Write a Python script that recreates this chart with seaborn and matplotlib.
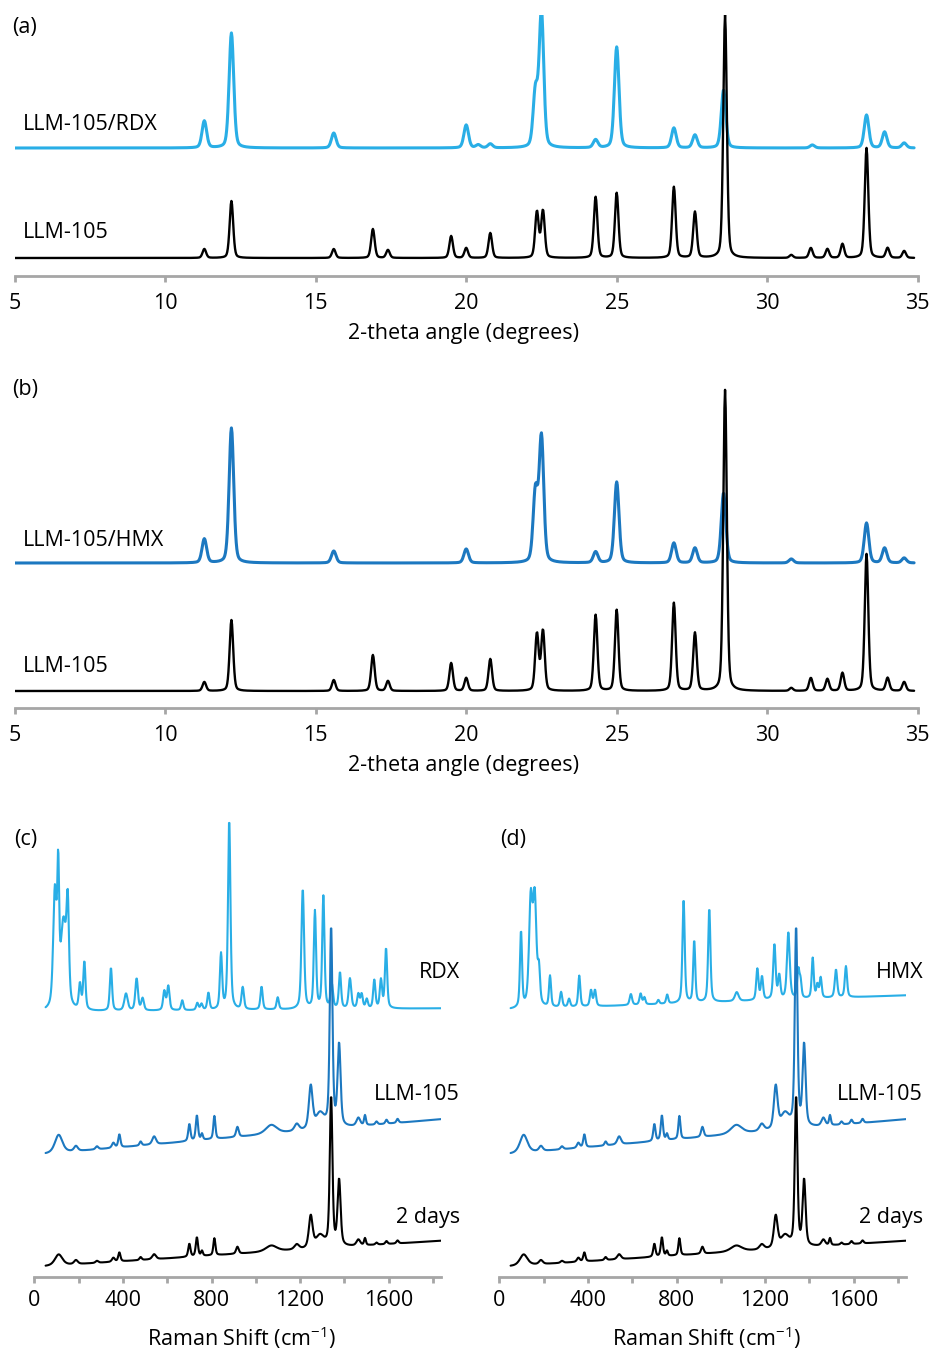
import numpy as np
import pandas as pd
import matplotlib
matplotlib.use("Agg")
import matplotlib.pyplot as plt
import seaborn as sns

# ---------------- DATA ----------------
# XRD: peak positions (2-theta, degrees) and heights (arbitrary units)
xrd_llm_pos = [11.3, 12.2, 15.6, 16.9, 17.4, 19.5, 20.0, 20.8, 22.35, 22.55, 24.3, 25.0,
               26.9, 27.6, 28.6, 30.8, 31.45, 32.0, 32.5, 33.3, 34.0, 34.55]
xrd_a_llm_h = [9, 57, 9, 29, 8, 22, 10, 25, 46, 47, 61, 65, 71, 46, 243, 3, 10, 9, 14, 110, 10, 7]
xrd_b_llm_h = [9, 71, 11, 36, 10, 28, 13, 32, 57, 60, 76, 81, 88, 58, 301, 3, 13, 12, 18, 137, 13, 9]

xrd_rdx_pos = [11.3, 12.2, 15.6, 20.0, 20.4, 20.8, 22.3, 22.5, 24.3, 25.0, 26.9, 27.6, 28.55,
               31.5, 33.3, 33.9, 34.55]
xrd_rdx_h = [27, 115, 15, 23, 3, 4, 55, 135, 8, 101, 20, 13, 58, 3, 33, 16, 5]

xrd_hmx_pos = [11.3, 12.2, 15.6, 20.0, 22.3, 22.5, 24.3, 25.0, 26.9, 27.6, 28.55, 30.8,
               33.3, 33.9, 34.55]
xrd_hmx_h = [24, 135, 12, 14, 70, 125, 11, 81, 20, 15, 70, 4, 40, 15, 5]

# vertical offsets of the stacked XRD traces
xrd_a_offsets = {"LLM-105": 18, "LLM-105/RDX": 128}
xrd_b_offsets = {"LLM-105": 17, "LLM-105/HMX": 145}

# Raman peaks: position (cm-1), height, FWHM
rdx_raman_pos = [93, 108, 132, 151, 206, 226, 346, 414, 462, 489, 587, 605, 668, 736, 755, 786,
                 843, 880, 941, 1026, 1099, 1212, 1267, 1305, 1343, 1380, 1425, 1463, 1478,
                 1501, 1535, 1565, 1588]
rdx_raman_h = [115, 120, 85, 90, 25, 48, 43, 17, 32, 12, 19, 24, 10, 7, 6, 17,
               55, 190, 22, 23, 12, 120, 97, 112, 24, 36, 30, 14, 14, 9, 28, 28, 60]
rdx_raman_w = [18, 10, 30, 13, 12, 12, 12, 18, 14, 14, 13, 13, 12, 12, 12, 12,
               12, 13, 13, 12, 12, 14, 12, 12, 13, 12, 14, 12, 12, 12, 12, 12, 12]

hmx_raman_pos = [98, 142, 160, 179, 229, 279, 315, 361, 414, 432, 594, 638, 655, 718, 758,
                 832, 880, 948, 1072, 1165, 1186, 1242, 1264, 1305, 1350, 1360, 1415, 1436,
                 1451, 1520, 1565]
hmx_raman_h = [76, 105, 105, 33, 31, 15, 8, 31, 16, 16, 11, 11, 7, 4, 9,
               104, 62, 94, 9, 31, 23, 55, 23, 66, 28, 16, 40, 13, 20, 28, 31]
hmx_raman_w = [11, 18, 18, 12, 11, 12, 12, 11, 12, 12, 13, 12, 11, 11, 11,
               12, 11, 12, 20, 12, 12, 13, 12, 15, 12, 11, 11, 11, 11, 13, 12]

llm_raman_pos = [110, 188, 283, 357, 384, 480, 541, 700, 734, 757, 813, 917, 1070, 1185,
                 1248, 1290, 1340, 1376, 1463, 1493, 1545, 1590, 1640]
llm_raman_h = [18, 5, 3, 5, 13, 4, 8, 17, 25, 6, 23, 10, 9, 7, 43, 15, 200, 82, 8, 10, 3, 4, 4]
days2_raman_h = [11, 4, 2, 4, 9, 3, 5, 13, 19, 5, 17, 7, 6, 5, 32, 12, 150, 66, 6, 7, 2, 3, 3]
llm_raman_w = [40, 20, 15, 15, 12, 12, 20, 12, 12, 10, 11, 14, 60, 25, 20, 45, 14, 16, 20, 10, 12, 12, 12]

# Raman baselines: (value at 0 cm-1, slope per cm-1)
rdx_base = (265, 0.002)
hmx_base = (267, 0.008)
llm_base = (122, 0.0195)
days2_base = (10, 0.0143)

xrd_ticks = [5, 10, 15, 20, 25, 30, 35]
raman_ticks = [0, 200, 400, 600, 800, 1000, 1200, 1400, 1600, 1800]
raman_ticklabels = ["0", "", "400", "", "800", "", "1200", "", "1600", ""]

# ---------------- STYLE ----------------
sns.set_theme(style="white")
plt.rcParams["font.family"] = ["Open Sans", "DejaVu Sans"]
plt.rcParams["mathtext.fontset"] = "custom"
plt.rcParams["mathtext.rm"] = "Open Sans"
plt.rcParams["mathtext.it"] = "Open Sans:italic"

FS = 15.5
BLACK = "#000000"
LIGHT = "#29AEE6"
MID = "#1C78C0"
GREY = "#A6A6A6"
W, H = 935, 1352


def pv(x, pos, h, w, eta):
    y = np.zeros_like(x, dtype=float)
    for p, a, f in zip(pos, h, w):
        d = (x - p) / f
        y += a * (eta / (1 + 4 * d * d) + (1 - eta) * np.exp(-4 * np.log(2) * d * d))
    return y


def fig_ax(left_px, right_px, top_px, bottom_px):
    return fig.add_axes([left_px / W, 1 - bottom_px / H, (right_px - left_px) / W,
                         (bottom_px - top_px) / H])


def style(ax, ticks, labels, pad):
    for s in ["top", "left", "right"]:
        ax.spines[s].set_visible(False)
    ax.spines["bottom"].set_color(GREY)
    ax.spines["bottom"].set_linewidth(2)
    ax.set_yticks([])
    ax.set_xticks(ticks)
    ax.set_xticklabels(labels)
    ax.tick_params(axis="x", direction="out", length=4, width=2, color=GREY,
                   labelsize=FS, labelcolor=BLACK, pad=pad, bottom=True)
    ax.set_xlabel("")
    ax.set_ylabel("")
    ax.patch.set_alpha(0)


def text(x, y, s, ha="left"):
    fig.text(x / W, 1 - y / H, s, ha=ha, va="center", fontsize=FS, color=BLACK)


fig = plt.figure(figsize=(W / 100, H / 100), dpi=100)

x2t = np.arange(5.0, 34.9, 0.02)
for (top, bottom, comp_name, comp_pos, comp_h, comp_col, llm_h, offs, ymax) in [
        (15, 276, "LLM-105/RDX", xrd_rdx_pos, xrd_rdx_h, LIGHT, xrd_a_llm_h, xrd_a_offsets, 261),
        (388, 708, "LLM-105/HMX", xrd_hmx_pos, xrd_hmx_h, MID, xrd_b_llm_h, xrd_b_offsets, 320)]:
    ax = fig_ax(14.7, 917.7, top, bottom)
    df_c = pd.DataFrame({"x": x2t,
                         "y": pv(x2t, comp_pos, comp_h, [0.18] * len(comp_pos), 0.3) + offs[comp_name]})
    df_l = pd.DataFrame({"x": x2t,
                         "y": pv(x2t, xrd_llm_pos, llm_h, [0.14] * len(xrd_llm_pos), 0.3) + offs["LLM-105"]})
    sns.lineplot(data=df_c, x="x", y="y", color=comp_col, linewidth=2.2,
                 estimator=None, sort=False, ax=ax)
    sns.lineplot(data=df_l, x="x", y="y", color=BLACK, linewidth=1.7,
                 estimator=None, sort=False, ax=ax)
    ax.set_xlim(5, 35)
    ax.set_ylim(0, ymax)
    style(ax, xrd_ticks, [str(t) for t in xrd_ticks], 8)

# ---------------- (c) and (d) ----------------
xr = np.arange(51.0, 1838.0, 2.0)
for left, ref_name, pos, h, w, base in [
        (34.3, "RDX", rdx_raman_pos, rdx_raman_h, rdx_raman_w, rdx_base),
        (499.3, "HMX", hmx_raman_pos, hmx_raman_h, hmx_raman_w, hmx_base)]:
    ax = fig_ax(left, left + 1838 * 0.2215, 813, 1277)
    y_ref = pv(xr, pos, h, w, 0.5) + base[0] + base[1] * xr
    y_llm = pv(xr, llm_raman_pos, llm_raman_h, llm_raman_w, 0.5) + llm_base[0] + llm_base[1] * xr
    y_2d = pv(xr, llm_raman_pos, days2_raman_h, llm_raman_w, 0.5) + days2_base[0] + days2_base[1] * xr
    df = pd.DataFrame({"x": np.concatenate([xr, xr, xr]),
                       "y": np.concatenate([y_ref, y_llm, y_2d]),
                       "s": [ref_name] * len(xr) + ["LLM-105"] * len(xr) + ["2 days"] * len(xr)})
    sns.lineplot(data=df, x="x", y="y", hue="s",
                 palette={ref_name: LIGHT, "LLM-105": MID, "2 days": BLACK},
                 linewidth=1.5, estimator=None, sort=False, legend=False, ax=ax)
    ax.set_xlim(0, 1838)
    ax.set_ylim(0, 464)
    style(ax, raman_ticks, raman_ticklabels, 5)

# ---------------- texts ----------------
text(12, 28, "(a)")
text(12, 390, "(b)")
text(14, 840, "(c)")
text(500, 840, "(d)")
text(23, 125, "LLM-105/RDX")
text(23, 233, "LLM-105")
text(23, 541, "LLM-105/HMX")
text(23, 667, "LLM-105")
text(460, 973, "RDX", ha="right")
text(460, 1095, "LLM-105", ha="right")
text(460, 1218, "2 days", ha="right")
text(923, 973, "HMX", ha="right")
text(923, 1095, "LLM-105", ha="right")
text(923, 1218, "2 days", ha="right")
text(464, 333, "2-theta angle (degrees)", ha="center")
text(464, 765, "2-theta angle (degrees)", ha="center")
text(241, 1338, r"Raman Shift (cm$^{-1}$)", ha="center")
text(706, 1338, r"Raman Shift (cm$^{-1}$)", ha="center")

fig.savefig("out.png", dpi=100)
